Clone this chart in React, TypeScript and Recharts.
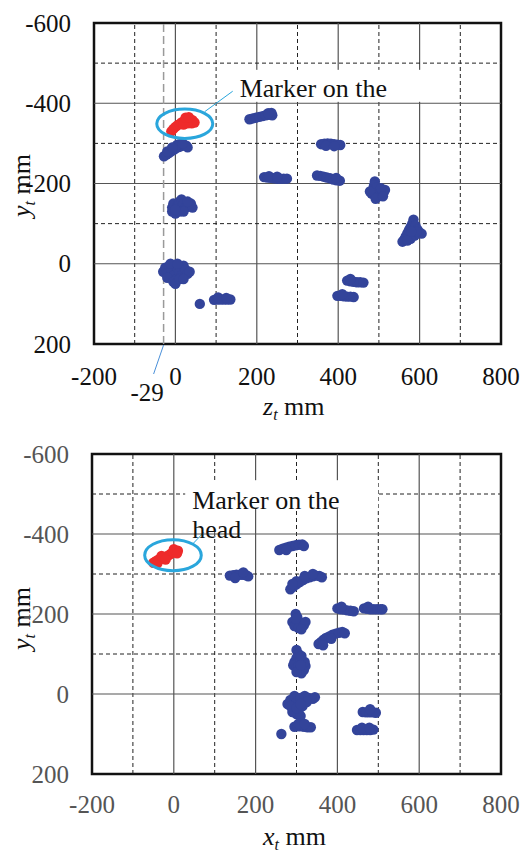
import React from "react";
import {
  ScatterChart, Scatter, XAxis, YAxis, ReferenceLine, ReferenceArea, ReferenceDot,
} from "recharts";

// axis ticks and grid
const xTicks = [-200, 0, 200, 400, 600, 800];
const yTicks = [-600, -400, -200, 0, 200];
const xMajor = [0, 200, 400, 600];
const xMinor = [-100, 100, 300, 500, 700];
const yMajor = [-400, -200, 0];
const yMinor = [-500, -300, -100];

// top chart: z_t vs y_t
const headZ = [
  { x: -10, y: -330 }, { x: -5, y: -336 }, { x: 0, y: -341 }, { x: 5, y: -345 },
  { x: 10, y: -348 }, { x: 15, y: -352 }, { x: 22, y: -356 }, { x: 28, y: -358 },
  { x: 35, y: -360 }, { x: 42, y: -358 }, { x: 47, y: -352 }, { x: 40, y: -350 },
  { x: 30, y: -350 }, { x: 20, y: -347 }, { x: 25, y: -364 }, { x: 33, y: -365 },
];
const bodyZ = [
  // near head
  { x: -28, y: -268 }, { x: -22, y: -272 }, { x: -16, y: -276 }, { x: -10, y: -280 },
  { x: -4, y: -284 }, { x: 2, y: -288 }, { x: 8, y: -291 }, { x: 14, y: -293 },
  { x: 20, y: -295 }, { x: 27, y: -294 }, { x: 30, y: -290 }, { x: 10, y: -298 }, { x: 4, y: -296 },
  { x: -20, y: -280 }, { x: -8, y: -290 }, { x: 18, y: -300 },
  // upper middle
  { x: 182, y: -360 }, { x: 190, y: -362 }, { x: 198, y: -364 }, { x: 206, y: -366 },
  { x: 214, y: -368 }, { x: 222, y: -370 }, { x: 230, y: -371 }, { x: 238, y: -370 },
  { x: 236, y: -376 }, { x: 228, y: -375 },
  { x: 358, y: -298 }, { x: 366, y: -299 }, { x: 374, y: -300 }, { x: 382, y: -299 },
  { x: 390, y: -298 }, { x: 398, y: -297 }, { x: 405, y: -296 }, { x: 370, y: -294 }, { x: 390, y: -293 },
  { x: 218, y: -216 }, { x: 226, y: -215 }, { x: 234, y: -214 }, { x: 242, y: -213 },
  { x: 250, y: -212 }, { x: 258, y: -212 }, { x: 266, y: -212 }, { x: 274, y: -212 },
  { x: 230, y: -218 }, { x: 250, y: -217 },
  { x: 348, y: -220 }, { x: 356, y: -219 }, { x: 364, y: -217 }, { x: 372, y: -215 },
  { x: 380, y: -213 }, { x: 388, y: -210 }, { x: 396, y: -208 }, { x: 404, y: -207 }, { x: 395, y: -214 },
  { x: 490, y: -205 }, { x: 488, y: -195 }, { x: 485, y: -185 }, { x: 482, y: -175 },
  { x: 490, y: -170 }, { x: 498, y: -168 }, { x: 506, y: -172 }, { x: 512, y: -178 },
  { x: 515, y: -184 }, { x: 500, y: -180 }, { x: 495, y: -190 }, { x: 505, y: -188 },
  { x: 478, y: -180 }, { x: 492, y: -162 }, { x: 510, y: -168 },
  { x: 585, y: -110 }, { x: 582, y: -100 }, { x: 578, y: -92 }, { x: 574, y: -84 },
  { x: 570, y: -76 }, { x: 566, y: -68 }, { x: 562, y: -60 }, { x: 558, y: -55 },
  { x: 590, y: -95 }, { x: 595, y: -85 }, { x: 600, y: -78 }, { x: 605, y: -75 },
  { x: 588, y: -70 }, { x: 578, y: -62 }, { x: 570, y: -58 }, { x: 592, y: -80 }, { x: 580, y: -80 },
  // left column
  { x: -8, y: -130 }, { x: -8, y: -140 }, { x: -5, y: -150 }, { x: 0, y: -125 },
  { x: 5, y: -145 }, { x: 10, y: -155 }, { x: 15, y: -160 }, { x: 20, y: -150 },
  { x: 25, y: -140 }, { x: 30, y: -145 }, { x: 38, y: -150 }, { x: 42, y: -140 },
  { x: 10, y: -130 }, { x: 20, y: -130 }, { x: 0, y: -135 }, { x: 30, y: -155 },
  { x: -30, y: 20 }, { x: -25, y: 10 }, { x: -20, y: 25 }, { x: -15, y: 5 },
  { x: -10, y: 15 }, { x: -5, y: 30 }, { x: 0, y: 40 }, { x: 5, y: 10 },
  { x: 10, y: 20 }, { x: 15, y: 30 }, { x: 20, y: 5 }, { x: 25, y: 15 },
  { x: 30, y: 25 }, { x: 35, y: 20 }, { x: -20, y: 35 }, { x: -5, y: 45 },
  { x: 0, y: 50 }, { x: 10, y: 38 }, { x: 20, y: 38 }, { x: -12, y: 0 }, { x: 5, y: 0 },
  // lower
  { x: 60, y: 100 },
  { x: 95, y: 90 }, { x: 103, y: 89 }, { x: 111, y: 89 }, { x: 119, y: 89 },
  { x: 127, y: 89 }, { x: 135, y: 89 }, { x: 105, y: 84 }, { x: 125, y: 85 },
  { x: 422, y: 42 }, { x: 430, y: 44 }, { x: 438, y: 45 }, { x: 446, y: 46 },
  { x: 454, y: 46 }, { x: 462, y: 47 }, { x: 430, y: 38 },
  { x: 398, y: 80 }, { x: 406, y: 80 }, { x: 414, y: 81 }, { x: 422, y: 82 },
  { x: 430, y: 82 }, { x: 438, y: 83 }, { x: 410, y: 76 },
];

// bottom chart: x_t vs y_t
const headX = [
  { x: -50, y: -328 }, { x: -44, y: -332 }, { x: -38, y: -336 }, { x: -32, y: -338 },
  { x: -26, y: -341 }, { x: -20, y: -343 }, { x: -14, y: -346 }, { x: -8, y: -350 },
  { x: -2, y: -354 }, { x: 4, y: -357 }, { x: 10, y: -358 }, { x: -40, y: -327 },
  { x: 0, y: -362 }, { x: 8, y: -352 }, { x: -30, y: -345 }, { x: -20, y: -336 },
];
const bodyX = [
  { x: 258, y: -360 }, { x: 266, y: -363 }, { x: 274, y: -366 }, { x: 282, y: -368 },
  { x: 290, y: -370 }, { x: 298, y: -372 }, { x: 306, y: -373 }, { x: 314, y: -374 },
  { x: 318, y: -370 }, { x: 275, y: -360 },
  { x: 137, y: -296 }, { x: 145, y: -297 }, { x: 153, y: -298 }, { x: 161, y: -298 },
  { x: 169, y: -298 }, { x: 177, y: -297 }, { x: 182, y: -294 }, { x: 150, y: -290 }, { x: 170, y: -304 },
  { x: 285, y: -262 }, { x: 292, y: -268 }, { x: 300, y: -274 }, { x: 308, y: -280 },
  { x: 316, y: -285 }, { x: 324, y: -289 }, { x: 332, y: -292 }, { x: 340, y: -294 },
  { x: 348, y: -296 }, { x: 356, y: -295 }, { x: 362, y: -292 }, { x: 300, y: -282 },
  { x: 320, y: -295 }, { x: 340, y: -300 }, { x: 290, y: -275 },
  { x: 400, y: -214 }, { x: 408, y: -212 }, { x: 416, y: -211 }, { x: 424, y: -209 },
  { x: 432, y: -208 }, { x: 440, y: -207 }, { x: 410, y: -218 },
  { x: 465, y: -214 }, { x: 473, y: -213 }, { x: 481, y: -212 }, { x: 489, y: -212 },
  { x: 497, y: -212 }, { x: 505, y: -212 }, { x: 510, y: -212 }, { x: 475, y: -218 },
  { x: 298, y: -200 }, { x: 302, y: -192 }, { x: 290, y: -180 }, { x: 300, y: -182 },
  { x: 310, y: -178 }, { x: 318, y: -172 }, { x: 322, y: -180 }, { x: 295, y: -170 },
  { x: 305, y: -165 }, { x: 312, y: -162 }, { x: 298, y: -188 },
  { x: 354, y: -125 }, { x: 360, y: -130 }, { x: 366, y: -136 }, { x: 372, y: -140 },
  { x: 380, y: -144 }, { x: 388, y: -148 }, { x: 396, y: -151 }, { x: 404, y: -153 },
  { x: 412, y: -155 }, { x: 418, y: -152 }, { x: 365, y: -122 }, { x: 385, y: -138 },
  { x: 300, y: -110 }, { x: 305, y: -100 }, { x: 300, y: -90 }, { x: 295, y: -80 },
  { x: 292, y: -72 }, { x: 300, y: -65 }, { x: 308, y: -58 }, { x: 312, y: -52 },
  { x: 318, y: -60 }, { x: 322, y: -70 }, { x: 320, y: -80 }, { x: 310, y: -85 },
  { x: 312, y: -95 }, { x: 305, y: -70 }, { x: 300, y: -55 }, { x: 310, y: -72 },
  { x: 278, y: 25 }, { x: 285, y: 15 }, { x: 290, y: 35 }, { x: 295, y: 5 },
  { x: 300, y: 20 }, { x: 305, y: 45 }, { x: 310, y: 10 }, { x: 315, y: 30 },
  { x: 320, y: 5 }, { x: 330, y: 10 }, { x: 340, y: 12 }, { x: 345, y: 8 },
  { x: 300, y: 50 }, { x: 290, y: 45 }, { x: 310, y: 55 }, { x: 325, y: 20 }, { x: 285, y: 30 },
  { x: 300, y: 35 }, { x: 310, y: 25 },
  { x: 295, y: 82 }, { x: 303, y: 81 }, { x: 311, y: 81 }, { x: 319, y: 82 },
  { x: 327, y: 83 }, { x: 335, y: 83 }, { x: 305, y: 74 }, { x: 320, y: 75 },
  { x: 263, y: 100 },
  { x: 462, y: 45 }, { x: 470, y: 46 }, { x: 478, y: 46 }, { x: 486, y: 46 },
  { x: 494, y: 47 }, { x: 480, y: 38 },
  { x: 448, y: 90 }, { x: 456, y: 90 }, { x: 464, y: 90 }, { x: 472, y: 90 },
  { x: 480, y: 90 }, { x: 488, y: 89 }, { x: 460, y: 84 }, { x: 478, y: 84 },
];

const FONT = "'Liberation Serif', 'Times New Roman', serif";
const BLUE = "#33449a";
const RED = "#ee2b2b";
const CYAN = "#2aa6dc";
const txt = { fontFamily: FONT };

const dot = (color: string) => (p: any) => (
  <circle cx={p.cx} cy={p.cy} r={5.2} fill={color} />
);

const makeXTick = (color: string, off: number) => (p: any) => (
  <text x={p.x} y={p.y + off} textAnchor="middle" fontSize={25} style={txt} fill={color}>
    {p.payload.value}
  </text>
);

const makeYTick = (color: string) => (p: any) => (
  <text x={p.x - 23} y={p.y + 8.5} textAnchor="end" fontSize={25} style={txt} fill={color}>
    {p.payload.value}
  </text>
);

const axisTitle = (letter: string, x: number, y: number, rotate: boolean, color: string) => () => (
  <text
    x={x}
    y={y}
    fontSize={26}
    style={txt}
    fill={color}
    transform={rotate ? `rotate(-90, ${x}, ${y})` : undefined}
  >
    <tspan fontStyle="italic">{letter}</tspan>
    <tspan fontStyle="italic" fontSize={16} dy={5}>t</tspan>
    <tspan dy={-5}> mm</tspan>
  </text>
);

function gridLines() {
  return [
    ...xMajor.map((v) => <ReferenceLine key={`xm${v}`} x={v} stroke="#555" strokeWidth={1.2} />),
    ...xMinor.map((v) => <ReferenceLine key={`xn${v}`} x={v} stroke="#222" strokeDasharray="4 3" />),
    ...yMajor.map((v) => <ReferenceLine key={`ym${v}`} y={v} stroke="#555" strokeWidth={1.2} />),
    ...yMinor.map((v) => <ReferenceLine key={`yn${v}`} y={v} stroke="#222" strokeDasharray="4 3" />),
  ];
}

const ellipse = (rx: number, ry: number) => (p: any) => (
  <ellipse cx={p.cx} cy={p.cy} rx={rx} ry={ry} fill="none" stroke={CYAN} strokeWidth={3} />
);

const noteTop = (p: any) => (
  <g>
    <rect x={p.cx - 7} y={p.cy - 27} width={207} height={32} fill="#fff" />
    <text x={p.cx} y={p.cy} fontSize={26} style={txt} fill="#111">Marker on the</text>
  </g>
);

const noteBottom = (p: any) => (
  <g>
    <rect x={p.cx - 7} y={p.cy - 29} width={193} height={28} fill="#fff" />
    <rect x={p.cx - 7} y={p.cy - 1} width={60} height={24} fill="#fff" />
    <text x={p.cx} y={p.cy} fontSize={26} style={txt} fill="#111">Marker on the</text>
    <text x={p.cx} y={p.cy + 29} fontSize={26} style={txt} fill="#111">head</text>
  </g>
);

const minus29 = (p: any) => (
  <g>
    <line x1={p.cx} y1={p.cy + 1} x2={p.cx - 10} y2={p.cy + 30} stroke="#4a90d9" strokeWidth={1} />
    <text x={p.cx - 16.5} y={p.cy + 57} textAnchor="middle" fontSize={25} style={txt} fill="#111">-29</text>
  </g>
);

export default function App() {
  return (
    <div style={{ position: "absolute", left: 0, top: 0, width: 524, height: 853, background: "#fff" }}>
      <style>{"body{margin:0}"}</style>
      <div style={{ position: "absolute", left: 0, top: 0 }}>
        <ScatterChart width={524} height={430} margin={{ top: 23, right: 23, left: 0, bottom: 0 }}>
          <XAxis
            type="number" dataKey="x" domain={[-200, 800]} ticks={xTicks}
            axisLine={false} tickLine={false} tickSize={0} tickMargin={0} height={86}
            tick={makeXTick("#111", 41)} interval={0}
            label={{ content: axisTitle("z", 263, 415, false, "#111") }}
          />
          <YAxis
            type="number" dataKey="y" domain={[-600, 200]} ticks={yTicks} reversed
            axisLine={false} tickLine={false} tickSize={0} tickMargin={0} width={94}
            tick={makeYTick("#111")} interval={0}
            label={{ content: axisTitle("y", 30, 217, true, "#111") }}
          />
          {gridLines()}
          <ReferenceLine x={-29} stroke="#9a9a9a" strokeWidth={1.5} strokeDasharray="8 4" />
          <ReferenceArea x1={-200} x2={800} y1={-600} y2={200} fill="none" stroke="#111" strokeWidth={2.5} />
          <Scatter data={bodyZ} fill={BLUE} shape={dot(BLUE)} isAnimationActive={false} />
          <Scatter data={headZ} fill={RED} shape={dot(RED)} isAnimationActive={false} />
          <ReferenceDot x={23} y={-349} shape={ellipse(28, 14.7)} ifOverflow="visible" />
          <ReferenceLine segment={[{ x: 72, y: -379 }, { x: 153, y: -439 }]} stroke={CYAN} strokeWidth={1} ifOverflow="visible" />
          <ReferenceDot x={158} y={-416} shape={noteTop} ifOverflow="visible" />
          <ReferenceDot x={-29} y={200} shape={minus29} ifOverflow="visible" />
        </ScatterChart>
      </div>
      <div style={{ position: "absolute", left: 0, top: 420 }}>
        <ScatterChart width={524} height={433} margin={{ top: 34, right: 23, left: 0, bottom: 0 }}>
          <XAxis
            type="number" dataKey="x" domain={[-200, 800]} ticks={xTicks}
            axisLine={false} tickLine={false} tickSize={0} tickMargin={0} height={79}
            tick={makeXTick("#555", 39)} interval={0}
            label={{ content: axisTitle("x", 263, 425, false, "#111") }}
          />
          <YAxis
            type="number" dataKey="y" domain={[-600, 200]} ticks={yTicks} reversed
            axisLine={false} tickLine={false} tickSize={0} tickMargin={0} width={92}
            tick={makeYTick("#555")} interval={0}
            label={{ content: axisTitle("y", 30, 230, true, "#111") }}
          />
          {gridLines()}
          <ReferenceArea x1={-200} x2={800} y1={-600} y2={200} fill="none" stroke="#111" strokeWidth={2.5} />
          <Scatter data={bodyX} fill={BLUE} shape={dot(BLUE)} isAnimationActive={false} />
          <Scatter data={headX} fill={RED} shape={dot(RED)} isAnimationActive={false} />
          <ReferenceDot x={-2} y={-347} shape={ellipse(28.3, 15.5)} ifOverflow="visible" />
          <ReferenceDot x={45} y={-462} shape={noteBottom} ifOverflow="visible" />
          <ReferenceLine segment={[{ x: 48, y: -377 }, { x: 122, y: -456 }]} stroke={CYAN} strokeWidth={1} ifOverflow="visible" />
        </ScatterChart>
      </div>
    </div>
  );
}
